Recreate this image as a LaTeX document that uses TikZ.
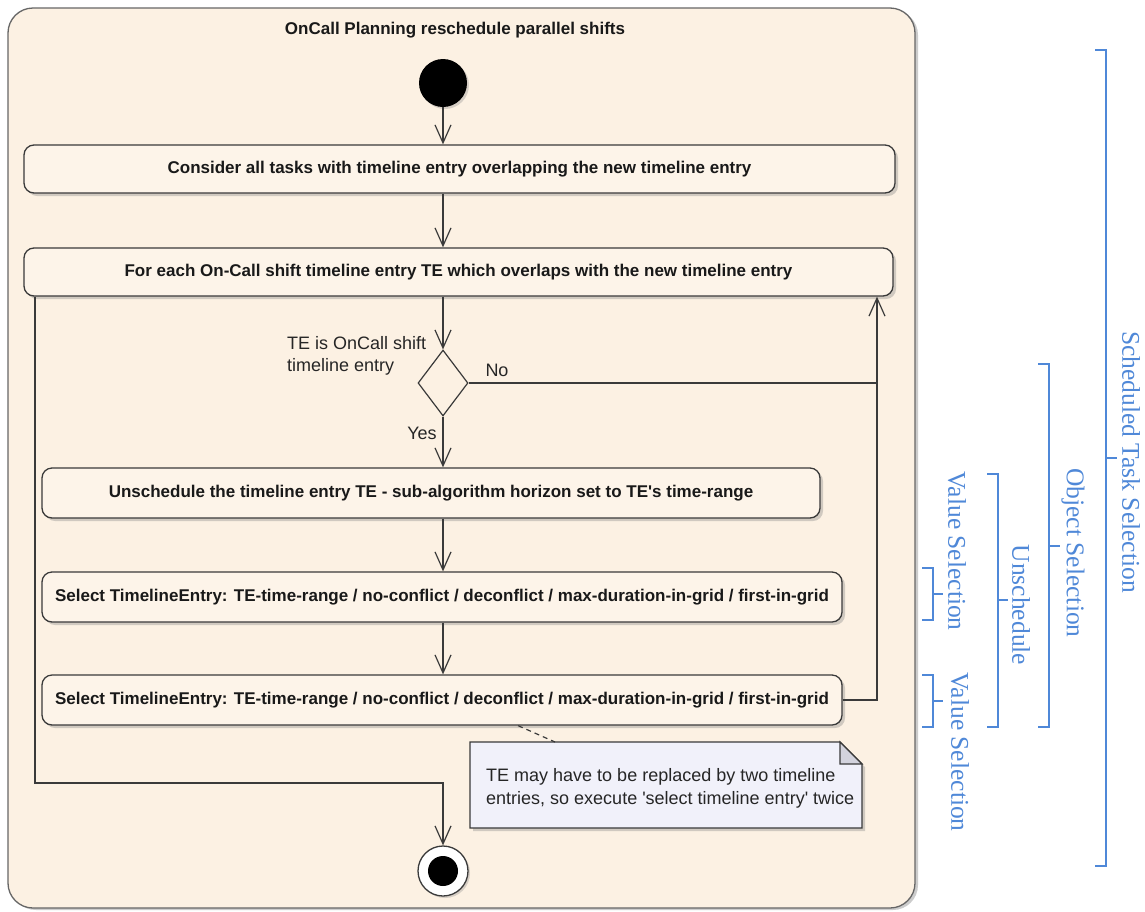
\documentclass[tikz,border=0pt]{standalone}
\usepackage{fontspec}
\setmainfont{Liberation Sans}
\newfontfamily\serifblue{Liberation Serif}
\usetikzlibrary{arrows.meta,shapes.geometric,shadows,calc}
\definecolor{bgbeige}{HTML}{FCF1E3}
\definecolor{boxfill}{HTML}{FDF4E9}
\definecolor{notefill}{HTML}{F1F1FA}
\definecolor{foldfill}{HTML}{D3D3DD}
\definecolor{linegray}{HTML}{3A3A3A}
\definecolor{bracketblue}{HTML}{4F88D8}
\begin{document}
\begin{tikzpicture}[x=1pt,y=-1pt,
  frame/.style={draw=gray!80!black, line width=1.3pt, fill=bgbeige, rounded corners=25pt,
    drop shadow={shadow xshift=3pt, shadow yshift=-2pt, opacity=0.4, fill=gray}},
  actbox/.style={draw=linegray, line width=1.3pt, fill=boxfill, rounded corners=10pt, inner sep=0pt,
    text=black!90, font=\fontsize{17}{20}\selectfont\bfseries,
    drop shadow={shadow xshift=3pt, shadow yshift=-3pt, opacity=0.35, fill=gray}},
  lbl/.style={text=black!85, font=\fontsize{18}{22}\selectfont, inner sep=0pt},
  flow/.style={draw=linegray, line width=1.2pt},
  arr/.style={flow, -{Straight Barb[length=18pt,width=16pt,line width=1.2pt]}},
  br/.style={draw=bracketblue, line width=2.5pt},
  bt/.style={text=bracketblue, font=\serifblue\fontsize{25.5}{28}\selectfont, rotate=-90, inner sep=0pt}
]
\useasboundingbox (0,0) rectangle (1145,911);
\fill[white] (0,0) rectangle (1145,911);

% outer frame
\node[frame, minimum width=907pt, minimum height=900pt] (frame) at (461.5,458) {};
\node[text=black!90, font=\fontsize{17}{20}\selectfont\bfseries] (title) at (455,30) {OnCall Planning reschedule parallel shifts};

% nodes
\node[circle, fill=black, minimum size=48pt, inner sep=0pt,
  drop shadow={shadow xshift=2pt, shadow yshift=-2pt, opacity=0.3, fill=gray}] (start) at (443,83) {};
\node[actbox, minimum width=871pt, minimum height=48pt] (b1) at (459.5,169)
  {Consider all tasks with timeline entry overlapping the new timeline entry};
\node[actbox, minimum width=869pt, minimum height=48pt] (b2) at (458.5,272)
  {For each On-Call shift timeline entry TE which overlaps with the new timeline entry};
\node[diamond, draw=linegray, line width=1.2pt, fill=bgbeige, minimum width=50pt, minimum height=66pt, inner sep=0pt] (dec) at (443,383) {};
\node[lbl, align=left, anchor=west] (declbl) at (287,356) {TE is OnCall shift\\timeline entry};
\node[lbl] (no) at (497,370) {No};
\node[lbl] (yes) at (422,433) {Yes};
\node[actbox, minimum width=778pt, minimum height=50pt] (b3) at (431,493)
  {Unschedule the timeline entry TE - sub-algorithm horizon set to TE\textquotesingle s time-range};
\node[actbox, minimum width=800pt, minimum height=50pt] (b4) at (442,597)
  {Select TimelineEntry: TE-time-range / no-conflict / deconflict / max-duration-in-grid / first-in-grid};
\node[actbox, minimum width=800pt, minimum height=50pt] (b5) at (442,700)
  {Select TimelineEntry: TE-time-range / no-conflict / deconflict / max-duration-in-grid / first-in-grid};
\node[circle, draw=linegray, line width=1.3pt, fill=white, minimum size=50pt, inner sep=0pt,
  path picture={\fill[black] (path picture bounding box.center) circle (15pt);},
  drop shadow={shadow xshift=2pt, shadow yshift=-2pt, opacity=0.3, fill=gray}] (end) at (443,871) {};

% note
\coordinate (noteNW) at (470,742);
\coordinate (noteSE) at (862,828);
\fill[gray, opacity=0.35] ($(noteNW)+(3,3)$) -- ($(noteSE|-noteNW)+(-19,3)$) -- ($(noteSE|-noteNW)+(3,25)$) -- ($(noteSE)+(3,3)$) -- ($(noteNW|-noteSE)+(3,3)$) -- cycle;
\filldraw[fill=notefill, draw=linegray, line width=1.2pt]
  (noteNW) -- ($(noteSE|-noteNW)+(-22,0)$) -- ($(noteSE|-noteNW)+(0,22)$) -- (noteSE) -- (noteNW|-noteSE) -- cycle;
\filldraw[fill=foldfill, draw=linegray, line width=1.2pt]
  ($(noteSE|-noteNW)+(-22,0)$) -- ($(noteSE|-noteNW)+(-22,22)$) -- ($(noteSE|-noteNW)+(0,22)$) -- cycle;
\node[lbl, align=left, anchor=west, font=\fontsize{18}{23}\selectfont] (note) at (486,788.5)
  {TE may have to be replaced by two timeline\\entries, so execute \textquotesingle select timeline entry\textquotesingle{} twice};
\draw[flow, dashed, dash pattern=on 5pt off 4pt] ($(b5.south west)!0.595!(b5.south east)$) -- ($(noteNW)+(85,0)$);

% connectors
\draw[arr] (start) -- (start |- b1.north);
\draw[arr] (b1.south -| start) -- (start |- b2.north);
\draw[arr] (b2.south -| start) -- (dec.north);
\draw[arr] (dec.south) -- (start |- b3.north);
\draw[arr] (b3.south -| start) -- (start |- b4.north);
\draw[arr] (b4.south -| start) -- (start |- b5.north);
\coordinate (loop) at (877,700);
\draw[arr] (b5.east) -- (loop) -- (loop |- b2.south);
\draw[flow] (dec.east) -- (dec.east -| loop);
\coordinate (lft) at (35,783);
\draw[arr] (b2.south west -| lft) -- (lft) -| (end.north);

% brackets
\draw[br] (1095,50) -- (1106,50) -- (1106,866) -- (1095,866);
\draw[br] (1106,458) -- (1117,458);
\node[bt] (sts) at (1131,462) {Scheduled Task Selection};
\draw[br] (1038,364) -- (1049,364) -- (1049,727) -- (1038,727);
\draw[br] (1049,546) -- (1060,546);
\node[bt] (os) at (1073,553) {Object Selection};
\draw[br] (987,474) -- (998,474) -- (998,727) -- (987,727);
\draw[br] (998,600) -- (1008,600);
\node[bt] (uns) at (1021,605) {Unschedule};
\draw[br] (922,568) -- (933,568) -- (933,620) -- (922,620);
\draw[br] (933,594) -- (943,594);
\node[bt] (vs1) at (957,551) {Value Selection};
\draw[br] (922,675) -- (933,675) -- (933,727) -- (922,727);
\draw[br] (933,701) -- (943,701);
\node[bt] (vs2) at (960,752) {Value Selection};
\end{tikzpicture}
\end{document}
